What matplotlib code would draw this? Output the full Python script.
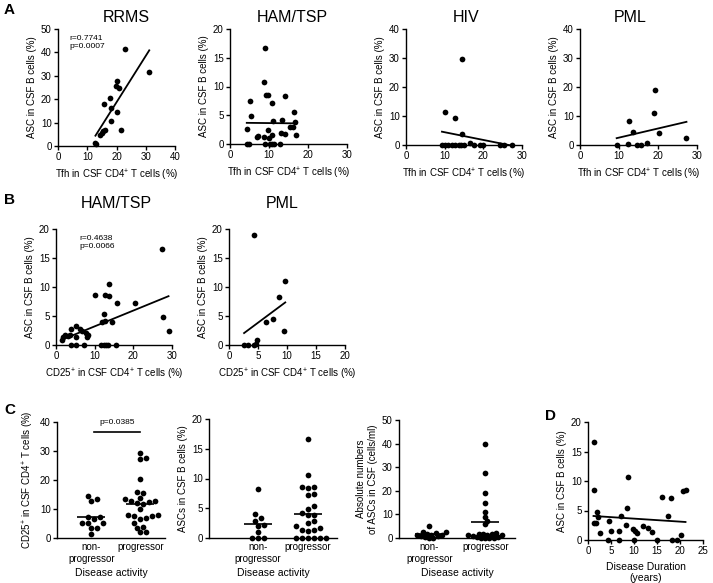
import numpy as np
import matplotlib.pyplot as plt

plt.rcParams['font.family'] = ['Liberation Sans', 'DejaVu Sans']
plt.rcParams['mathtext.fontset'] = 'custom'
plt.rcParams['mathtext.rm'] = 'Liberation Sans'
plt.rcParams['mathtext.it'] = 'Liberation Sans'
plt.rcParams['mathtext.bf'] = 'Liberation Sans:bold'

# ---- data ----
# A: Tfh vs ASC
rrms_tfh = [23.0, 31.2, 20.2, 19.8, 20.7, 17.8, 15.6, 18.2, 20.2, 18.0, 21.4, 16.1, 15.3, 14.9, 14.5, 12.8, 13.0]
rrms_asc = [41.5, 31.5, 27.7, 25.5, 24.9, 20.3, 17.8, 16.4, 14.7, 10.6, 7.0, 7.0, 6.5, 5.5, 4.6, 1.1, 0.8]

ham_tfh = [9.0, 8.8, 9.2, 9.8, 5.0, 10.7, 14.1, 5.4, 16.3, 11.1, 13.4, 16.7, 15.3, 16.2, 4.4, 9.8,
           13.0, 14.2, 17.0, 10.7, 7.2, 7.0, 8.8, 10.0, 4.3, 4.8, 9.0, 10.2, 10.8, 11.2, 12.8]
ham_asc = [16.7, 10.7, 8.6, 8.6, 7.4, 7.2, 8.4, 4.8, 5.5, 4.0, 4.2, 3.8, 3.0, 2.9, 2.6, 2.4,
           2.0, 1.7, 1.6, 1.6, 1.4, 1.3, 1.3, 1.0, 0, 0, 0, 0, 0, 0, 0]

hiv_tfh = [14.4, 10.2, 12.7, 14.6, 16.5, 9.3, 10.0, 10.8, 11.8, 12.7, 13.6, 14.2, 14.9, 17.5, 19.2, 19.8, 24.4, 25.4, 27.3]
hiv_asc = [29.7, 11.4, 9.2, 3.7, 0.6, 0, 0, 0, 0, 0, 0, 0, 0, 0, 0, 0, 0, 0, 0]

pml_tfh = [19.2, 19.0, 12.6, 13.7, 20.3, 27.3, 17.2, 12.4, 9.4, 14.5, 15.6]
pml_asc = [19.0, 11.1, 8.4, 4.6, 4.0, 2.4, 0.7, 0.2, 0, 0, 0]

# B: CD25+ vs ASC
ham_cd25 = [27.4, 13.8, 10.2, 12.6, 13.8, 15.7, 20.4, 12.4, 27.7, 12.6, 12.0, 14.6, 29.1, 5.1, 4.0, 6.3, 6.8,
            7.8, 8.2, 8.0, 3.7, 5.2, 2.3, 3.0, 1.8, 1.5, 3.9, 5.2, 7.2, 11.6, 12.5, 13.0, 13.5, 15.6]
ham_asc_b = [16.6, 10.6, 8.6, 8.6, 8.4, 7.2, 7.3, 5.4, 4.8, 4.2, 3.9, 3.9, 2.5, 3.2, 2.8, 2.8, 2.4,
             2.1, 1.8, 1.4, 1.8, 1.3, 1.7, 1.6, 1.3, 0.9, 0, 0, 0, 0, 0, 0, 0, 0]

pml_cd25 = [4.25, 9.7, 8.7, 6.4, 7.5, 9.5, 4.8, 4.6, 2.6, 3.3, 4.3]
pml_asc_b = [18.9, 11.1, 8.3, 4.0, 4.5, 2.4, 0.8, 0.2, 0, 0, 0]

# C: disease activity groups
groups = ['non-\nprogressor', 'progressor']
cd25_non = [14.5, 12.7, 13.6, 7.1, 6.6, 7.1, 5.1, 5.1, 5.1, 3.6, 3.5, 1.5]
cd25_prog = [29.3, 27.4, 27.7, 20.4, 15.5, 15.7, 13.3, 13.7, 12.8, 12.6, 12.3, 11.9, 11.7, 10.1,
             8.0, 7.8, 7.6, 7.5, 6.6, 6.9, 5.2, 3.8, 3.5, 1.9, 2.2]
ascp_non = [8.3, 4.0, 3.3, 2.9, 2.2, 2.1, 1.0, 0, 0, 0]
ascp_prog = [16.6, 10.6, 8.6, 8.6, 8.4, 7.4, 7.2, 5.4, 4.8, 4.2, 3.9, 3.8, 2.8, 2.6, 2.0,
             1.6, 1.4, 1.3, 1.2, 0, 0, 0, 0, 0, 0]
ascn_non = [4.9, 2.4, 2.1, 1.8, 2.4, 1.4, 1.3, 1.4, 0.7, 0.4, 0.7, 0.0, 0.0]
ascn_prog = [40.0, 27.6, 18.9, 15.0, 11.0, 8.7, 7.2, 5.8, 2.0, 1.8, 1.6, 1.5, 1.4, 1.3, 1.1,
             0.9, 0.6, 0.4, 0.2, 0.1, 0.0, 0.0]

# D: disease duration
duration = [1.2, 1.4, 1.3, 1.8, 2.0, 2.2, 2.5, 4.3, 4.6, 5.0, 6.7, 6.8, 7.2, 8.5, 8.3, 8.8, 9.8, 10.2,
            10.0, 10.6, 12.0, 13.0, 14.0, 15.0, 16.0, 17.4, 18.0, 18.3, 19.4, 20.2, 20.6, 21.2]
dur_asc = [16.6, 8.5, 2.8, 2.8, 4.8, 3.9, 1.2, 0, 3.3, 1.6, 1.6, 0, 4.1, 5.4, 2.5, 10.6, 1.8, 1.5,
           0, 1.2, 2.3, 2.0, 1.4, 0, 7.3, 4.0, 7.1, 0, 0, 0.9, 8.3, 8.5]

W, H = 713, 583
fig = plt.figure(figsize=(W / 100, H / 100), dpi=100)

TICK = 7
LAB = 7
MS = 17


def make_ax(l, r, t, b, xlim, ylim, xticks, yticks):
    ax = fig.add_axes([l / W, 1 - b / H, (r - l) / W, (b - t) / H])
    ax.spines[['top', 'right']].set_visible(False)
    ax.spines[['left', 'bottom']].set_linewidth(1)
    ax.set_xlim(xlim)
    ax.set_ylim(ylim)
    ax.set_xticks(xticks)
    ax.set_yticks(yticks)
    ax.tick_params(direction='out', length=3, width=1, labelsize=TICK, pad=1.5)
    return ax


def scatter_fit(ax, x, y):
    x = np.array(x)
    y = np.array(y)
    ax.scatter(x, y, s=MS, c='k', clip_on=False, zorder=3, linewidths=0)
    k, b0 = np.polyfit(x, y, 1)
    xs = np.array([x.min(), x.max()])
    ax.plot(xs, k * xs + b0, 'k', lw=1.3)


def swarm(ax, xc, vals, d=6.0):
    tr = ax.transData
    ypix = tr.transform(np.column_stack([np.full(len(vals), xc), vals]))[:, 1]
    order = np.argsort(ypix)
    cands = [0.0]
    for k in range(1, 40):
        cands += [k * d * 0.5, -k * d * 0.5]
    placed = []
    xoff = np.zeros(len(vals))
    for i in order:
        for c in cands:
            ok = all((c - px) ** 2 + (ypix[i] - py) ** 2 >= (d * 0.9) ** 2 for px, py in placed)
            if ok:
                placed.append((c, ypix[i]))
                xoff[i] = c
                break
    ppu = tr.transform((1, 0))[0] - tr.transform((0, 0))[0]
    return xc + xoff / ppu


def dot_panel(ax, non, prog, d=6.0):
    ppu = ax.transData.transform((1, 0))[0] - ax.transData.transform((0, 0))[0]
    hw = 14 / ppu
    for xc, vals in [(1, non), (2, prog)]:
        xs = swarm(ax, xc, vals, d)
        ax.scatter(xs, vals, s=MS, c='k', clip_on=False, zorder=3, linewidths=0)
        ax.hlines(np.mean(vals), xc - hw, xc + hw, color='k', lw=1.2)
    ax.set_xticks([1, 2])
    ax.set_xticklabels(groups, fontsize=LAB)
    ax.tick_params(axis='x', length=0, pad=3)
    ax.set_xlabel('Disease activity', fontsize=LAB + 0.5, labelpad=3)


tfh_lab = 'Tfh in CSF CD4$^{+}$ T cells (%)'
cd25_lab = 'CD25$^{+}$ in CSF CD4$^{+}$ T cells (%)'
asc_lab = 'ASC in CSF B cells (%)'

# ---- row A ----
ax = make_ax(58, 175, 29, 146, (0, 40), (0, 50), range(0, 41, 10), range(0, 51, 10))
scatter_fit(ax, rrms_tfh, rrms_asc)
ax.text(4, 47.5, 'r=0.7741\np=0.0007', fontsize=6, va='top', linespacing=1.3)
ax.set_xlabel(tfh_lab, fontsize=LAB, labelpad=4)
ax.set_ylabel(asc_lab, fontsize=LAB, labelpad=3)

ax = make_ax(230, 347, 29, 144, (0, 30), (0, 20), range(0, 31, 10), range(0, 21, 5))
scatter_fit(ax, ham_tfh, ham_asc)
ax.set_xlabel(tfh_lab, fontsize=LAB, labelpad=4)
ax.set_ylabel(asc_lab, fontsize=LAB, labelpad=3)

ax = make_ax(406, 522, 29, 145, (0, 30), (0, 40), range(0, 31, 10), range(0, 41, 10))
scatter_fit(ax, hiv_tfh, hiv_asc)
ax.set_xlabel(tfh_lab, fontsize=LAB, labelpad=4)
ax.set_ylabel(asc_lab, fontsize=LAB, labelpad=3)

ax = make_ax(580, 697, 29, 145, (0, 30), (0, 40), range(0, 31, 10), range(0, 41, 10))
scatter_fit(ax, pml_tfh, pml_asc)
ax.set_xlabel(tfh_lab, fontsize=LAB, labelpad=4)
ax.set_ylabel(asc_lab, fontsize=LAB, labelpad=3)

# ---- row B ----
ax = make_ax(56, 172, 229, 345, (0, 30), (0, 20), range(0, 31, 10), range(0, 21, 5))
scatter_fit(ax, ham_cd25, ham_asc_b)
ax.text(6, 19, 'r=0.4638\np=0.0066', fontsize=6, va='top', linespacing=1.3)
ax.set_xlabel(cd25_lab, fontsize=LAB, labelpad=4)
ax.set_ylabel(asc_lab, fontsize=LAB, labelpad=3)

ax = make_ax(229, 345, 229, 345, (0, 20), (0, 20), range(0, 21, 5), range(0, 21, 5))
scatter_fit(ax, pml_cd25, pml_asc_b)
ax.set_xlabel(cd25_lab, fontsize=LAB, labelpad=4)
ax.set_ylabel(asc_lab, fontsize=LAB, labelpad=3)

# ---- row C ----
ax = make_ax(57, 165, 422, 538, (0.3, 2.5), (0, 40), [1, 2], range(0, 41, 10))
dot_panel(ax, cd25_non, cd25_prog)
ax.plot([1.05, 2.0], [36.5, 36.5], 'k', lw=1.2)
ax.text(1.52, 38.5, 'p=0.0385', fontsize=6, ha='center', va='bottom')
ax.set_ylabel(cd25_lab, fontsize=LAB, labelpad=3)

ax = make_ax(209, 337, 419, 538, (0.02, 2.58), (0, 20), [1, 2], range(0, 21, 5))
dot_panel(ax, ascp_non, ascp_prog)
ax.set_ylabel('ASCs in CSF B cells (%)', fontsize=LAB, labelpad=3)

ax = make_ax(399, 515, 420, 538, (0.46, 2.53), (0, 50), [1, 2], range(0, 51, 10))
dot_panel(ax, ascn_non, ascn_prog, d=4.2)
ax.set_ylabel('Absolute numbers\nof ASCs in CSF (cells/ml)', fontsize=LAB, labelpad=3)

# ---- D ----
ax = make_ax(588, 703, 422, 540, (0, 25), (0, 20), range(0, 26, 5), range(0, 21, 5))
scatter_fit(ax, duration, dur_asc)
ax.set_xlabel('Disease Duration\n(years)', fontsize=LAB + 0.5, labelpad=4)
ax.set_ylabel(asc_lab, fontsize=LAB, labelpad=3)

# ---- titles & panel letters ----
for x, y, t in [(126, 17, 'RRMS'), (292, 17, 'HAM/TSP'), (466, 17, 'HIV'), (630, 17, 'PML'),
                (116, 203, 'HAM/TSP'), (282, 203, 'PML')]:
    fig.text(x / W, 1 - y / H, t, fontsize=11.5, ha='center', va='center')
for x, y, t in [(4, 10, 'A'), (4, 200, 'B'), (4, 410, 'C'), (545, 416, 'D')]:
    fig.text(x / W, 1 - y / H, t, fontsize=11, fontweight='bold', ha='left', va='center')

fig.savefig('out.png', dpi=100)
